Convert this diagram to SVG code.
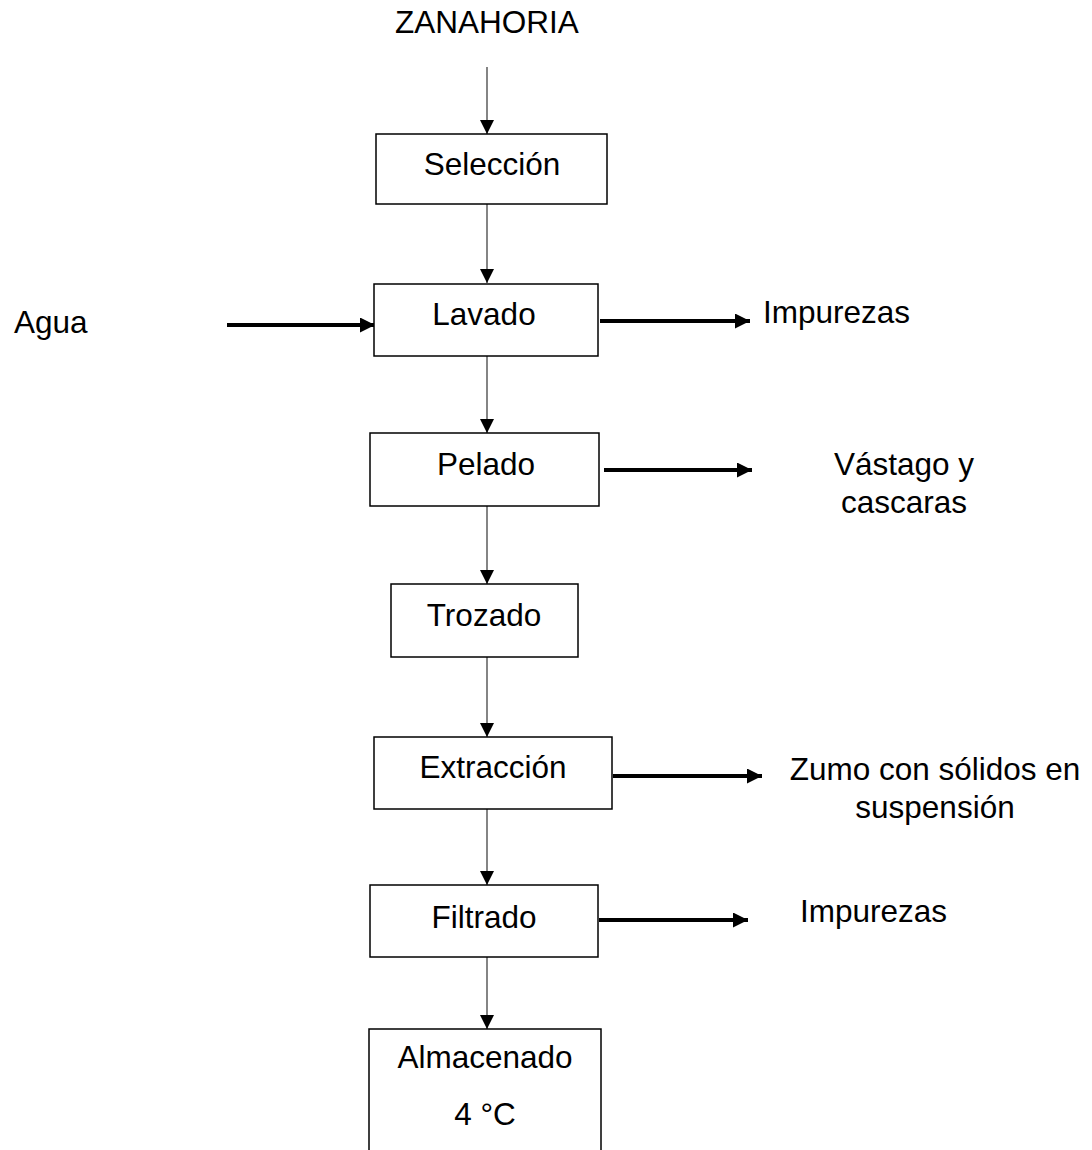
<svg xmlns="http://www.w3.org/2000/svg" width="1092" height="1150" viewBox="0 0 1092 1150">
<defs>
<style>
text{font-family:"Liberation Sans",Arial,sans-serif;font-size:31.5px;fill:#000}
.c{text-anchor:middle}
.box{fill:#fff;stroke:#000;stroke-width:1.5}
.thin{stroke:#333;stroke-width:1.2;fill:none}
.thick{stroke:#000;stroke-width:4;fill:none}
</style>
<marker id="ah" viewBox="0 0 14 14" refX="14" refY="7" markerUnits="userSpaceOnUse" markerWidth="14" markerHeight="14" orient="auto">
<path d="M0,0 L14,7 L0,14 z" fill="#000"/>
</marker>
<marker id="ahb" viewBox="0 0 15 15" refX="15" refY="7.5" markerUnits="userSpaceOnUse" markerWidth="15" markerHeight="15" orient="auto">
<path d="M0,0 L15,7.5 L0,15 z" fill="#000"/>
</marker>
</defs>
<rect width="1092" height="1150" fill="#fff"/>
<g id="connectors">
<line class="thin" x1="487" y1="67" x2="487" y2="134" marker-end="url(#ah)"/>
<line class="thin" x1="487" y1="204" x2="487" y2="283" marker-end="url(#ah)"/>
<line class="thin" x1="487" y1="356" x2="487" y2="433" marker-end="url(#ah)"/>
<line class="thin" x1="487" y1="506" x2="487" y2="584" marker-end="url(#ah)"/>
<line class="thin" x1="487" y1="657" x2="487" y2="737" marker-end="url(#ah)"/>
<line class="thin" x1="487" y1="809" x2="487" y2="885" marker-end="url(#ah)"/>
<line class="thin" x1="487" y1="957" x2="487" y2="1029" marker-end="url(#ah)"/>
<line class="thick" x1="227" y1="325" x2="375" y2="325" marker-end="url(#ahb)"/>
<line class="thick" x1="600" y1="321" x2="750" y2="321" marker-end="url(#ahb)"/>
<line class="thick" x1="604" y1="470" x2="752" y2="470" marker-end="url(#ahb)"/>
<line class="thick" x1="613" y1="776" x2="762" y2="776" marker-end="url(#ahb)"/>
<line class="thick" x1="599" y1="920" x2="748" y2="920" marker-end="url(#ahb)"/>
</g>
<g id="zanahoria"><text class="c" x="487" y="33">ZANAHORIA</text></g>
<g id="seleccion"><rect class="box" x="376" y="134" width="231" height="70"/><text class="c" x="492" y="175">Selección</text></g>
<g id="agua"><text x="14" y="333">Agua</text></g>
<g id="lavado"><rect class="box" x="374" y="284" width="224" height="72"/><text class="c" x="484" y="325">Lavado</text></g>
<g id="impurezas1"><text x="763" y="323">Impurezas</text></g>
<g id="pelado"><rect class="box" x="370" y="433" width="229" height="73"/><text class="c" x="486" y="475">Pelado</text></g>
<g id="vastago"><text class="c" x="904" y="475">Vástago y</text><text class="c" x="904" y="513">cascaras</text></g>
<g id="trozado"><rect class="box" x="391" y="584" width="187" height="73"/><text class="c" x="484" y="626">Trozado</text></g>
<g id="extraccion"><rect class="box" x="374" y="737" width="238" height="72"/><text class="c" x="493" y="778">Extracción</text></g>
<g id="zumo"><text class="c" x="935" y="780">Zumo con sólidos en</text><text class="c" x="935" y="818">suspensión</text></g>
<g id="filtrado"><rect class="box" x="370" y="885" width="228" height="72"/><text class="c" x="484" y="928">Filtrado</text></g>
<g id="impurezas2"><text x="800" y="922">Impurezas</text></g>
<g id="almacenado"><rect class="box" x="369" y="1029" width="232" height="140"/><text class="c" x="485" y="1068">Almacenado</text><text class="c" x="485" y="1125">4 °C</text></g>
</svg>
